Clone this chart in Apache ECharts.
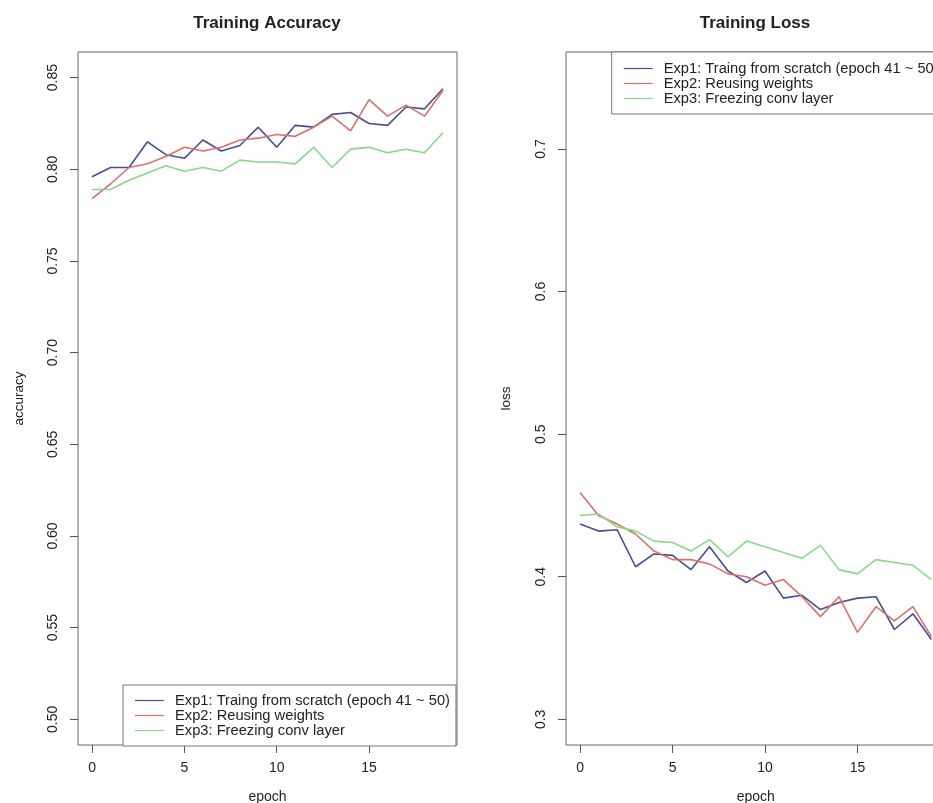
<!DOCTYPE html>
<html>
<head>
<meta charset="utf-8">
<script src="https://cdn.jsdelivr.net/npm/echarts@6/dist/echarts.min.js"></script>
<style>
html,body{margin:0;padding:0;background:#fff;}
#chart{width:933px;height:803px;}
</style>
</head>
<body>
<div id="chart"></div>
<script>
// ---- data ----
const epochs = [0,1,2,3,4,5,6,7,8,9,10,11,12,13,14,15,16,17,18,19];
const seriesNames = ['Exp1: Traing from scratch (epoch 41 ~ 50)', 'Exp2: Reusing weights', 'Exp3: Freezing conv layer'];
const accExp1 = [0.796,0.801,0.801,0.815,0.808,0.806,0.816,0.810,0.813,0.823,0.812,0.824,0.823,0.830,0.831,0.825,0.824,0.834,0.833,0.844];
const accExp2 = [0.784,0.792,0.801,0.803,0.807,0.812,0.810,0.812,0.816,0.817,0.819,0.818,0.823,0.829,0.821,0.838,0.829,0.835,0.829,0.843];
const accExp3 = [0.789,0.789,0.794,0.798,0.802,0.799,0.801,0.799,0.805,0.804,0.804,0.803,0.812,0.801,0.811,0.812,0.809,0.811,0.809,0.820];
const lossExp1 = [0.437,0.432,0.433,0.407,0.416,0.415,0.405,0.421,0.404,0.396,0.404,0.385,0.387,0.377,0.382,0.385,0.386,0.363,0.374,0.356];
const lossExp2 = [0.459,0.443,0.437,0.430,0.418,0.412,0.412,0.409,0.402,0.400,0.394,0.398,0.386,0.372,0.386,0.361,0.379,0.369,0.379,0.358];
const lossExp3 = [0.443,0.444,0.435,0.432,0.425,0.424,0.418,0.426,0.414,0.425,0.421,0.417,0.413,0.422,0.405,0.402,0.412,0.410,0.408,0.398];
const xTicks = [0,5,10,15];
const accTicks = [0.50,0.55,0.60,0.65,0.70,0.75,0.80,0.85];
const lossTicks = [0.3,0.4,0.5,0.6,0.7];
const colors = ['#4a4c94', '#d9716b', '#86d986'];

// ---- chart ----
const FONT = '"Liberation Sans", Arial, sans-serif';
const TXT = '#222';
const pair = (xs, ys) => xs.map((x, i) => [x, ys[i]]);

function xAxisCfg(gridIndex) {
  return {
    type: 'value', gridIndex, min: -0.76, max: 19.76, position: 'bottom',
    name: 'epoch', nameLocation: 'middle', nameGap: 45,
    nameTextStyle: {fontFamily: FONT, fontSize: 14, color: TXT},
    axisLine: {show: false, onZero: false},
    axisTick: {show: true, customValues: xTicks, length: 8, lineStyle: {color: '#555'}},
    axisLabel: {customValues: xTicks, margin: 16, fontFamily: FONT, fontSize: 14, color: TXT},
    splitLine: {show: false}
  };
}
function yAxisCfg(gridIndex, min, max, ticks, dec, name, nameGap) {
  return {
    type: 'value', gridIndex, min, max, position: 'left',
    name, nameLocation: 'middle', nameGap, nameRotate: 90,
    nameTextStyle: {fontFamily: FONT, fontSize: 13.5, color: TXT},
    axisLine: {show: false, onZero: false},
    axisTick: {show: true, customValues: ticks, length: 8, lineStyle: {color: '#555'}},
    axisLabel: {customValues: ticks, rotate: 90, margin: 18, align: 'center', verticalAlign: 'bottom',
      fontFamily: FONT, fontSize: 14, color: TXT, formatter: v => Number(v).toFixed(dec)},
    splitLine: {show: false}
  };
}
function lineSeries(name, xi, data, ci) {
  return {
    name, type: 'line', xAxisIndex: xi, yAxisIndex: xi, data, symbol: 'none',
    lineStyle: {width: 1.6, color: colors[ci]}, itemStyle: {color: colors[ci]},
    animation: false
  };
}
function legendCfg(left, top, padTop) {
  return {
    orient: 'vertical', left, top, data: seriesNames.map(n => ({name: n, icon: 'rect'})),
    itemWidth: 29, itemHeight: 1.2, itemGap: 0,
    padding: [padTop, 6, 8, 12],
    backgroundColor: '#fff', borderColor: '#777', borderWidth: 1, borderRadius: 0,
    lineStyle: {width: 0},
    textStyle: {fontFamily: FONT, fontSize: 14.7, lineHeight: 14.7, color: TXT, padding: [0, 0, 0, 6]},
    selectedMode: false
  };
}
function gridCfg(left, width) {
  return {left, top: 52, width, height: 693, show: true, borderColor: '#666', borderWidth: 1,
    backgroundColor: 'transparent', containLabel: false, outerBoundsMode: 'none'};
}

const chart = echarts.init(document.getElementById('chart'), null, {renderer: 'canvas'});
chart.setOption({
  backgroundColor: '#fff',
  animation: false,
  title: [
    {text: 'Training Accuracy', left: 267, top: 15, textAlign: 'center', padding: 0,
     textStyle: {fontFamily: FONT, fontSize: 17, fontWeight: 'bold', color: TXT}},
    {text: 'Training Loss', left: 755, top: 15, textAlign: 'center', padding: 0,
     textStyle: {fontFamily: FONT, fontSize: 17, fontWeight: 'bold', color: TXT}}
  ],
  grid: [gridCfg(78, 379), gridCfg(566, 379.5)],
  xAxis: [xAxisCfg(0), xAxisCfg(1)],
  yAxis: [
    yAxisCfg(0, 0.486, 0.864, accTicks, 2, 'accuracy', 51.5),
    yAxisCfg(1, 0.282, 0.768, lossTicks, 1, 'loss', 53)
  ],
  legend: [legendCfg(123, 685, 8), legendCfg(611.7, 52, 9)],
  series: [
    lineSeries(seriesNames[0], 0, pair(epochs, accExp1), 0),
    lineSeries(seriesNames[1], 0, pair(epochs, accExp2), 1),
    lineSeries(seriesNames[2], 0, pair(epochs, accExp3), 2),
    lineSeries(seriesNames[0], 1, pair(epochs, lossExp1), 0),
    lineSeries(seriesNames[1], 1, pair(epochs, lossExp2), 1),
    lineSeries(seriesNames[2], 1, pair(epochs, lossExp3), 2)
  ]
});
</script>
</body>
</html>
